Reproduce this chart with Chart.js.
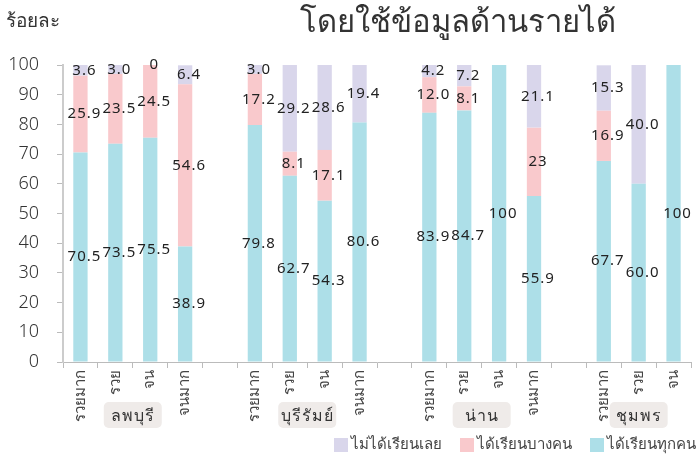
<!DOCTYPE html>
<html>
<head>
<meta charset="utf-8">
<script src="https://cdn.jsdelivr.net/npm/chart.js@4.4.1/dist/chart.umd.min.js"></script>
<style>
  html, body { margin: 0; padding: 0; background: #fff; }
  #wrap { width: 697px; height: 456px; }
</style>
</head>
<body>
<div id="wrap"><canvas id="chart" width="697" height="456"></canvas></div>
<script>
// categories ("" = gap between provinces)
const levels = ["รวยมาก", "รวย", "จน", "จนมาก", "", "รวยมาก", "รวย", "จน", "จนมาก", "",
  "รวยมาก", "รวย", "จน", "จนมาก", "", "รวยมาก", "รวย", "จน"]
const provinces = ["ลพบุรี", "บุรีรัมย์", "น่าน", "ชุมพร"]
const provinceCenter = [1.5, 6.5, 11.5, 16]

const allStudy = [70.5, 73.5, 75.5, 38.9, null, 79.8, 62.7, 54.3, 80.6, null,
  83.9, 84.7, 100, 55.9, null, 67.7, 60.0, 100]
const someStudy = [25.9, 23.5, 24.5, 54.6, null, 17.2, 8.1, 17.1, null, null,
  12.0, 8.1, null, 23, null, 16.9, null, null]
const noStudy = [3.6, 3.0, 0, 6.4, null, 3.0, 29.2, 28.6, 19.4, null,
  4.2, 7.2, null, 21.1, null, 15.3, 40.0, null]

// value labels as printed on the chart
const allStudyText = ["70.5", "73.5", "75.5", "38.9", null, "79.8", "62.7", "54.3", "80.6", null,
  "83.9", "84.7", "100", "55.9", null, "67.7", "60.0", "100"]
const someStudyText = ["25.9", "23.5", "24.5", "54.6", null, "17.2", "8.1", "17.1", null, null,
  "12.0", "8.1", null, "23", null, "16.9", null, null]
const noStudyText = ["3.6", "3.0", "0", "6.4", null, "3.0", "29.2", "28.6", "19.4", null,
  "4.2", "7.2", null, "21.1", null, "15.3", "40.0", null]

const yTicks = [0, 10, 20, 30, 40, 50, 60, 70, 80, 90, 100]

const FONT = "'Noto Sans', 'DejaVu Sans', sans-serif"

const decorations = {
  id: "decorations",
  afterDatasetsDraw(chart) {
    const ctx = chart.ctx
    ctx.save()
    ctx.fillStyle = "#222"
    ctx.font = "15px " + FONT
    ctx.letterSpacing = "1px"
    ctx.textAlign = "center"
    ctx.textBaseline = "middle"
    chart.data.datasets.forEach((ds, i) => {
      chart.getDatasetMeta(i).data.forEach((bar, j) => {
        const label = ds.valueText[j]
        if (!label) return
        ctx.fillText(label, bar.x + 4, (bar.y + bar.base) / 2)
      })
    })
    ctx.restore()
  },
  afterDraw(chart) {
    const ctx = chart.ctx
    const x = chart.scales.x
    ctx.save()
    // titles
    ctx.fillStyle = "#333"
    ctx.textBaseline = "middle"
    ctx.font = "19px " + FONT
    ctx.textAlign = "left"
    ctx.fillText("ร้อยละ", 6, 22)
    ctx.font = "31px " + FONT
    ctx.textAlign = "center"
    ctx.fillText("โดยใช้ข้อมูลด้านรายได้", 458, 23)
    // province boxes
    ctx.font = "16px " + FONT
    ctx.letterSpacing = "1px"
    provinces.forEach((p, k) => {
      const cx = x.getPixelForValue(provinceCenter[k])
      const w = 58, h = 26, top = 402
      ctx.fillStyle = "#efebe9"
      ctx.beginPath()
      ctx.roundRect(cx - w / 2, top, w, h, 5)
      ctx.fill()
      ctx.fillStyle = "#333"
      ctx.fillText(p, cx, top + h / 2 + 1)
    })
    // legend, right aligned to the canvas edge
    ctx.letterSpacing = "0px"
    ctx.font = "15px " + FONT
    ctx.textAlign = "left"
    const items = chart.data.datasets.slice().reverse()
    const widths = items.map(ds => ctx.measureText(ds.label).width)
    let lx = 696 - widths.reduce((a, w) => a + w + 17, 0) - 18 * (items.length - 1)
    const ly = 445
    items.forEach((ds, k) => {
      ctx.fillStyle = ds.backgroundColor
      ctx.fillRect(lx, ly - 7, 14, 14)
      ctx.fillStyle = "#444"
      ctx.fillText(ds.label, lx + 17, ly)
      lx += 17 + widths[k] + 18
    })
    ctx.restore()
  }
}

new Chart(document.getElementById("chart"), {
  type: "bar",
  data: {
    labels: levels,
    datasets: [
      { label: "ได้เรียนทุกคน", data: allStudy, valueText: allStudyText, backgroundColor: "#addfe8" },
      { label: "ได้เรียนบางคน", data: someStudy, valueText: someStudyText, backgroundColor: "#f9c9cc" },
      { label: "ไม่ได้เรียนเลย", data: noStudy, valueText: noStudyText, backgroundColor: "#d9d6eb" }
    ]
  },
  options: {
    responsive: false,
    animation: false,
    layout: { padding: { top: 65, right: 6, left: 0, bottom: 0 } },
    datasets: { bar: { categoryPercentage: 1, barPercentage: 0.41 } },
    plugins: {
      legend: { display: false },
      tooltip: { enabled: false }
    },
    scales: {
      x: {
        stacked: true,
        grid: { display: true, drawOnChartArea: false, tickLength: 6, color: "#bbb" },
        border: { color: "#bbb" },
        ticks: {
          autoSkip: false, minRotation: 90, maxRotation: 90, padding: 2,
          color: "#444", font: { family: FONT, size: 15 }
        },
        afterFit(scale) { scale.height = 94 }
      },
      y: {
        stacked: true,
        min: 0, max: 100,
        afterBuildTicks(scale) { scale.ticks = yTicks.map(v => ({ value: v })) },
        grid: { display: true, drawOnChartArea: false, tickLength: 6, color: "#bbb" },
        border: { color: "#ccc", width: 2 },
        ticks: { padding: 18, color: "#333", font: { family: FONT, size: 18, weight: 300 } },
        afterFit(scale) { scale.width = 63 }
      }
    }
  },
  plugins: [decorations]
})
</script>
</body>
</html>
